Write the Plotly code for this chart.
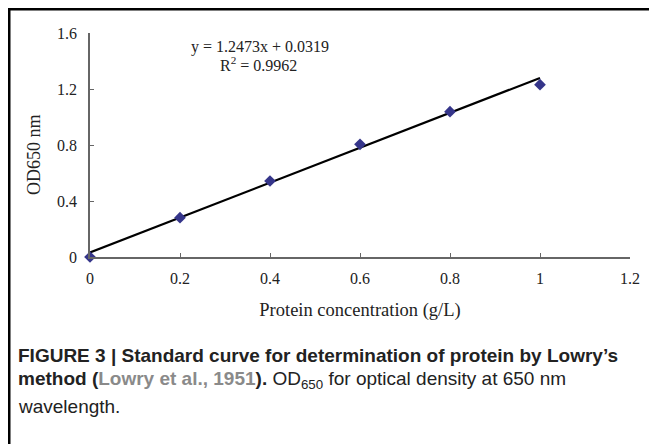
import plotly.graph_objects as go

# Data
conc = [0, 0.2, 0.4, 0.6, 0.8, 1.0]
od650 = [0.0, 0.281, 0.543, 0.805, 1.038, 1.231]
trend_x = [0, 1.0]
trend_y = [0.0319, 1.2792]
x_ticks = [0, 0.2, 0.4, 0.6, 0.8, 1, 1.2]
x_tick_labels = ["0", "0.2", "0.4", "0.6", "0.8", "1", "1.2"]
y_ticks = [0, 0.4, 0.8, 1.2, 1.6]
y_tick_labels = ["0", "0.4", "0.8", "1.2", "1.6"]
eq_text = "y = 1.2473x + 0.0319"
r2_text = "R<sup>2</sup> = 0.9962"
x_title = "Protein concentration (g/L)"
y_title = "OD650 nm"

# The page body has an 8px margin, so the figure is drawn 8px in from the corner.
OFF = 8
W, H = 657 - OFF, 444 - OFF
# plot area in page pixels: x 90..630, y 33..257
L = 90 - OFF
R = W - (630 - OFF)
T = 33 - OFF
B = H - (257 - OFF)
pw, ph = W - L - R, H - T - B


def px(xp):
    return (xp - OFF - L) / pw


def py(yp):
    return (H - B - (yp - OFF)) / ph


serif = "Liberation Serif, Times New Roman, serif"
sans = "Liberation Sans, Arial, Helvetica, sans-serif"
axis_col = "#666666"

fig = go.Figure()
fig.add_trace(go.Scatter(
    x=trend_x, y=trend_y, mode="lines",
    line=dict(color="#000000", width=2.2),
    hoverinfo="skip", showlegend=False, cliponaxis=False))
fig.add_trace(go.Scatter(
    x=conc, y=od650, mode="markers",
    marker=dict(symbol="diamond", size=9, color="#35358a"),
    showlegend=False, cliponaxis=False))

fig.update_layout(
    width=W, height=H,
    margin=dict(l=L, r=R, t=T, b=B),
    paper_bgcolor="white", plot_bgcolor="white",
    showlegend=False,
    xaxis=dict(
        range=[0, 1.2], tickvals=x_ticks, ticktext=x_tick_labels,
        showgrid=False, zeroline=False, showline=True,
        linecolor=axis_col, linewidth=1.5,
        ticks="inside", ticklen=4, tickwidth=1.2, tickcolor=axis_col,
        tickfont=dict(family=serif, size=16, color="#222222"),
        ticklabelstandoff=6,
        title=dict(text=x_title,
                   font=dict(family=serif, size=18.5, color="#222222"),
                   standoff=17),
    ),
    yaxis=dict(
        range=[0, 1.6], tickvals=y_ticks, ticktext=y_tick_labels,
        showgrid=False, zeroline=False, showline=True,
        linecolor=axis_col, linewidth=1.5,
        ticks="inside", ticklen=4, tickwidth=1.2, tickcolor=axis_col,
        tickfont=dict(family=serif, size=16, color="#222222"),
        ticklabelstandoff=8,
    ),
)

# Y axis title (placed slightly below the axis centre, as in the original)
fig.add_annotation(x=px(34), y=py(155), xref="paper", yref="paper",
                   text=y_title, textangle=-90, showarrow=False,
                   xanchor="center", yanchor="middle",
                   font=dict(family=serif, size=18, color="#222222"))

# Equation annotations
fig.add_annotation(x=px(260), y=py(47), xref="paper", yref="paper",
                   text=eq_text, showarrow=False, xanchor="center", yanchor="middle",
                   font=dict(family=serif, size=16, color="#222222"))
fig.add_annotation(x=px(258), y=py(64), xref="paper", yref="paper",
                   text=r2_text, showarrow=False, xanchor="center", yanchor="middle",
                   font=dict(family=serif, size=16, color="#222222"))

# Caption
cap_font = dict(family=sans, size=19, color="#222222")
fig.add_annotation(x=px(16), y=py(355), xref="paper", yref="paper",
                   text="<b>FIGURE 3 | Standard curve for determination of protein by Lowry’s</b>",
                   showarrow=False, xanchor="left", yanchor="middle", font=cap_font)
fig.add_annotation(x=px(16), y=py(380), xref="paper", yref="paper",
                   text="<b>method (<span style='color:#8a8a8a'>Lowry et al., 1951</span>).</b> OD<sub>650</sub> for optical density at 650 nm",
                   showarrow=False, xanchor="left", yanchor="middle", font=cap_font)
fig.add_annotation(x=px(16), y=py(406), xref="paper", yref="paper",
                   text="wavelength.",
                   showarrow=False, xanchor="left", yanchor="middle", font=cap_font)

# Frame (top and left borders)
fig.add_shape(type="line", xref="paper", yref="paper",
              x0=px(7.5), x1=px(660), y0=py(9), y1=py(9),
              line=dict(color="#000000", width=3))
fig.add_shape(type="line", xref="paper", yref="paper",
              x0=px(9), x1=px(9), y0=py(7.5), y1=py(450),
              line=dict(color="#000000", width=3))

fig.write_html("out.html")
